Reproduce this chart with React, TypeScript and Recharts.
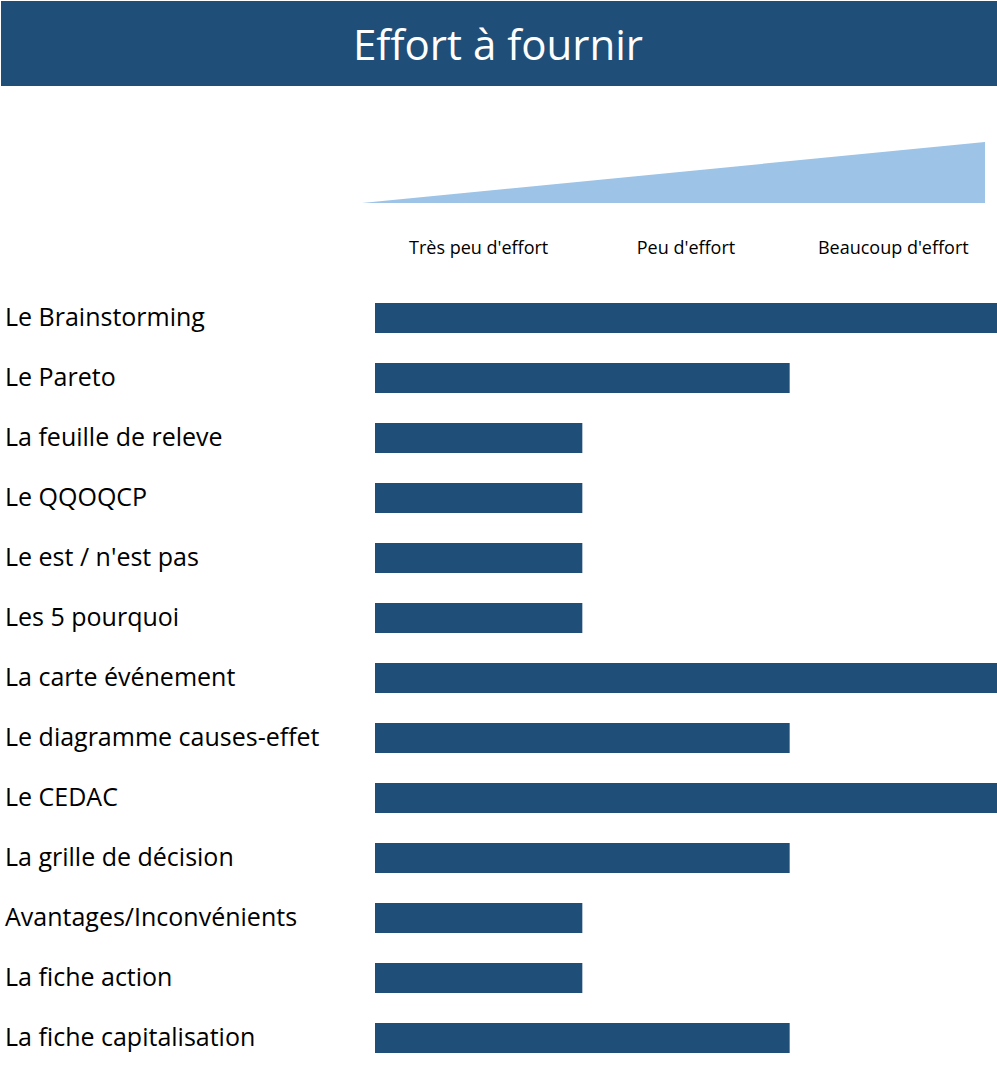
import { BarChart, Bar, XAxis, YAxis, Customized } from "recharts";

const tools = [
  "Le Brainstorming",
  "Le Pareto",
  "La feuille de releve",
  "Le QQOQCP",
  "Le est / n'est pas",
  "Les 5 pourquoi",
  "La carte événement",
  "Le diagramme causes-effet",
  "Le CEDAC",
  "La grille de décision",
  "Avantages/Inconvénients",
  "La fiche action",
  "La fiche capitalisation",
];

const effort = [3, 2, 1, 1, 1, 1, 3, 2, 3, 2, 1, 1, 2];

const levels = ["Très peu d'effort", "Peu d'effort", "Beaucoup d'effort"];
const levelTicks = [0.5, 1.5, 2.5];

const data = tools.map((name, i) => ({ name, effort: effort[i] }));

const FONT = "'Open Sans', sans-serif";
const DARK = "#1F4E79";
const LIGHT = "#9DC3E6";

const ToolTick = ({ y, payload }: any) => (
  <text x={5} y={y} dy={8} fontSize={25} fontFamily={FONT} fill="#000" textAnchor="start">
    {payload.value}
  </text>
);

const LevelTick = ({ x, payload }: any) => (
  <text x={x} y={254} fontSize={18} fontFamily={FONT} fill="#000" textAnchor="middle">
    {levels[levelTicks.indexOf(payload.value)]}
  </text>
);

const Header = () => (
  <g>
    <rect x={1} y={1} width={996} height={85} fill={DARK} />
    <text x={498} y={60} fontSize={42} fontFamily={FONT} fill="#fff" textAnchor="middle">
      Effort à fournir
    </text>
    <polygon points="362,203 985,142 985,203" fill={LIGHT} />
  </g>
);

export default function App() {
  return (
    <div style={{ position: "absolute", left: 0, top: 0, width: 997, height: 1084, background: "#fff" }}>
      <BarChart
        width={997}
        height={1084}
        data={data}
        layout="vertical"
        margin={{ top: 258, right: 0, left: 0, bottom: 16 }}
      >
        <XAxis
          type="number"
          domain={[0, 3]}
          orientation="top"
          ticks={levelTicks}
          tick={<LevelTick />}
          axisLine={false}
          tickLine={false}
          height={30}
        />
        <YAxis
          type="category"
          dataKey="name"
          width={375}
          axisLine={false}
          tickLine={false}
          tick={<ToolTick />}
          interval={0}
        />
        <Bar dataKey="effort" fill={DARK} barSize={30} isAnimationActive={false} />
        <Customized component={Header} />
      </BarChart>
    </div>
  );
}
